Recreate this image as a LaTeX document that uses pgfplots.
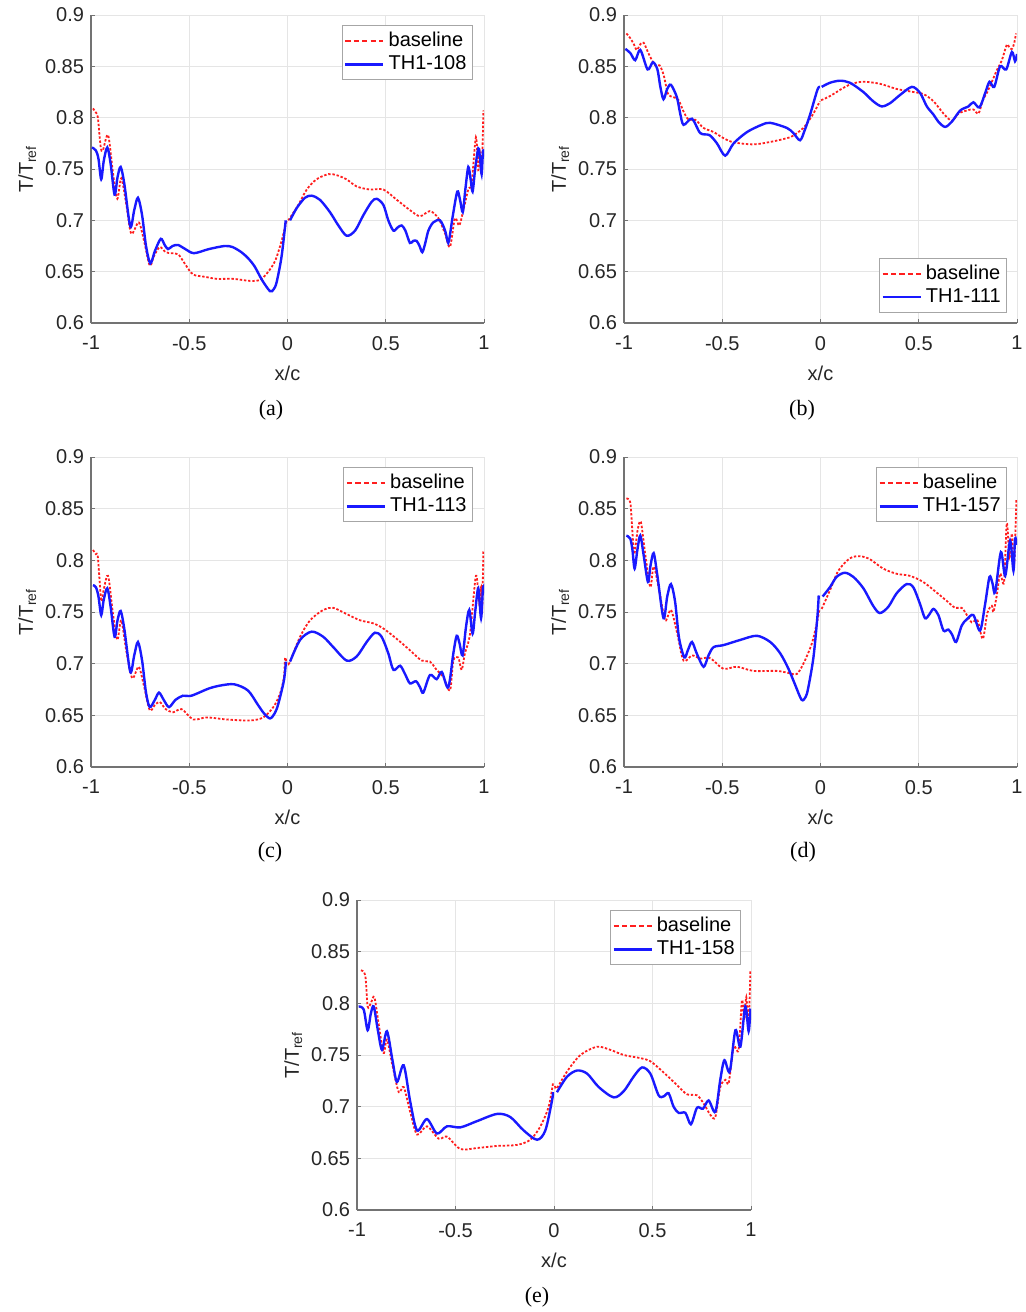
\documentclass[border=0pt]{standalone}
\usepackage{fontspec}
\setmainfont{Liberation Sans}
\newfontfamily\capfont{Liberation Serif}
\usepackage{pgfplots}
\pgfplotsset{compat=1.18}
\definecolor{mred}{RGB}{255,30,30}
\definecolor{mblue}{RGB}{25,25,255}
\pgfplotsset{
  myax/.style={
    scale only axis, width=196.5pt, height=154pt,
    anchor=south west,
    xmin=-1, xmax=1, ymin=0.6, ymax=0.9,
    xtick={-1,-0.5,0,0.5,1}, xticklabels={-1,-0.5,0,0.5,1},
    ytick={0.6,0.65,0.7,0.75,0.8,0.85,0.9},
    yticklabels={0.6,0.65,0.7,0.75,0.8,0.85,0.9},
    axis x line*=bottom, axis y line*=left,
    axis line style={-, black!55, line width=0.6pt},
    grid=major, major grid style={black!10, line width=0.5pt},
    tick align=inside, major tick length=2pt,
    tick style={black!55, line width=0.5pt},
    ticklabel style={font=\fontsize{10}{12}\selectfont, text=black!85},
    xticklabel style={yshift=-3pt},
    label style={font=\fontsize{10}{12}\selectfont, text=black!85},
    xlabel style={yshift=-1pt},
    ylabel style={yshift=-2.5pt},
    xlabel={x/c}, ylabel={T/T\textsubscript{ref}},
    legend style={font=\fontsize{10}{12}\selectfont, draw=black!35, line width=0.5pt,
      inner xsep=1pt, inner ysep=1.5pt, row sep=-1pt},
    legend cell align=left,
    legend image code/.code={\draw[#1] (0pt,0pt) -- (19pt,0pt);},
  },
  rs/.style={mred, line width=0.9pt, dash pattern=on 1.2pt off 0.9pt, smooth, tension=0.5,
    legend image post style={dash pattern=on 2.6pt off 1.6pt}},
  bs/.style={mblue, line width=1.2pt, smooth, tension=0.5},
}
\begin{document}
\begin{tikzpicture}
\path[use as bounding box] (0pt,0pt) rectangle (512.5pt,-656pt);
% (a)
\begin{axis}[myax, at={(45.5pt,-161.5pt)},
  legend style={at={(0.972,0.968)}, anchor=north east}]
\addplot[rs] coordinates {(-0.99,0.809) (-0.975,0.805) (-0.965,0.800) (-0.951,0.772) (-0.94,0.768) (-0.913,0.783) (-0.888,0.746) (-0.866,0.721) (-0.846,0.741) (-0.82,0.715) (-0.795,0.687) (-0.757,0.698) (-0.73,0.68) (-0.701,0.656) (-0.68,0.665) (-0.65,0.674) (-0.62,0.669) (-0.591,0.668) (-0.557,0.667) (-0.53,0.66) (-0.506,0.653) (-0.479,0.647) (-0.42,0.645) (-0.36,0.643) (-0.276,0.643) (-0.19,0.641) (-0.14,0.642) (-0.106,0.648) (-0.064,0.66) (-0.03,0.68) (-0.004,0.70)};
\addlegendentry{baseline}
\addplot[bs] coordinates {(-0.995,0.771) (-0.975,0.768) (-0.962,0.76) (-0.948,0.740) (-0.935,0.758) (-0.917,0.771) (-0.90,0.755) (-0.880,0.725) (-0.865,0.742) (-0.849,0.752) (-0.83,0.735) (-0.80,0.694) (-0.78,0.71) (-0.761,0.722) (-0.74,0.705) (-0.72,0.675) (-0.698,0.658) (-0.675,0.67) (-0.645,0.682) (-0.625,0.676) (-0.608,0.672) (-0.585,0.675) (-0.557,0.676) (-0.52,0.672) (-0.476,0.668) (-0.40,0.672) (-0.32,0.675) (-0.28,0.674) (-0.235,0.669) (-0.20,0.663) (-0.167,0.655) (-0.13,0.642) (-0.089,0.631) (-0.07,0.633) (-0.055,0.64) (-0.03,0.665) (-0.009,0.70)};
\addlegendentry{TH1-108}
\addplot[rs, forget plot] coordinates {(0.004,0.70) (0.055,0.715) (0.098,0.73) (0.148,0.74) (0.208,0.745) (0.25,0.744) (0.30,0.74) (0.352,0.733) (0.42,0.730) (0.488,0.730) (0.556,0.72) (0.623,0.71) (0.674,0.704) (0.725,0.709) (0.768,0.702) (0.802,0.687) (0.827,0.674) (0.852,0.702) (0.874,0.695) (0.895,0.71) (0.920,0.730) (0.937,0.736) (0.959,0.781) (0.971,0.749) (0.979,0.766) (0.988,0.745) (0.997,0.807)};
\addplot[bs, forget plot] coordinates {(0.013,0.70) (0.047,0.712) (0.089,0.722) (0.123,0.724) (0.165,0.72) (0.216,0.708) (0.259,0.695) (0.301,0.685) (0.344,0.69) (0.386,0.705) (0.428,0.718) (0.454,0.721) (0.488,0.715) (0.513,0.70) (0.539,0.69) (0.56,0.693) (0.581,0.695) (0.60,0.69) (0.623,0.678) (0.64,0.68) (0.657,0.68) (0.672,0.675) (0.686,0.669) (0.70,0.677) (0.717,0.69) (0.742,0.698) (0.776,0.70) (0.802,0.69) (0.818,0.678) (0.830,0.69) (0.840,0.703) (0.864,0.728) (0.878,0.72) (0.892,0.708) (0.905,0.73) (0.920,0.752) (0.932,0.74) (0.942,0.728) (0.955,0.75) (0.971,0.770) (0.980,0.76) (0.988,0.745) (0.995,0.768) (1.0,0.762)};
\end{axis}
% (b)
\begin{axis}[myax, at={(312pt,-161.5pt)},
  legend style={at={(0.975,0.032)}, anchor=south east}]
\addplot[rs] coordinates {(-0.988,0.882) (-0.97,0.878) (-0.951,0.872) (-0.935,0.866) (-0.915,0.872) (-0.900,0.873) (-0.883,0.866) (-0.866,0.859) (-0.841,0.851) (-0.819,0.851) (-0.799,0.842) (-0.785,0.830) (-0.773,0.822) (-0.748,0.820) (-0.722,0.817) (-0.697,0.806) (-0.671,0.798) (-0.637,0.798) (-0.595,0.790) (-0.544,0.786) (-0.493,0.780) (-0.442,0.776) (-0.341,0.774) (-0.239,0.777) (-0.154,0.781) (-0.12,0.785) (-0.087,0.790) (-0.06,0.797) (-0.036,0.804) (-0.003,0.816)};
\addlegendentry{baseline}
\addplot[bs] coordinates {(-0.993,0.867) (-0.968,0.863) (-0.943,0.856) (-0.917,0.866) (-0.880,0.847) (-0.853,0.854) (-0.830,0.847) (-0.815,0.83) (-0.799,0.818) (-0.78,0.828) (-0.761,0.832) (-0.731,0.820) (-0.715,0.805) (-0.697,0.793) (-0.654,0.799) (-0.612,0.785) (-0.565,0.783) (-0.527,0.775) (-0.485,0.763) (-0.442,0.775) (-0.374,0.786) (-0.30,0.793) (-0.256,0.795) (-0.171,0.790) (-0.138,0.785) (-0.104,0.778) (-0.08,0.788) (-0.053,0.803) (-0.016,0.827) (-0.003,0.830)};
\addlegendentry{TH1-111}
\addplot[rs, forget plot] coordinates {(0.003,0.817) (0.048,0.821) (0.116,0.829) (0.160,0.833) (0.218,0.835) (0.303,0.833) (0.387,0.828) (0.473,0.825) (0.524,0.823) (0.575,0.816) (0.626,0.804) (0.668,0.797) (0.702,0.804) (0.745,0.807) (0.778,0.808) (0.804,0.804) (0.826,0.817) (0.849,0.825) (0.872,0.835) (0.897,0.846) (0.923,0.856) (0.948,0.871) (0.962,0.868) (0.974,0.867) (0.985,0.872) (0.995,0.882)};
\addplot[bs, forget plot] coordinates {(0.006,0.830) (0.048,0.834) (0.099,0.836) (0.150,0.834) (0.218,0.825) (0.268,0.816) (0.311,0.811) (0.353,0.814) (0.404,0.822) (0.465,0.830) (0.507,0.824) (0.541,0.811) (0.575,0.803) (0.600,0.796) (0.634,0.791) (0.668,0.796) (0.711,0.807) (0.753,0.811) (0.778,0.815) (0.809,0.810) (0.838,0.824) (0.860,0.835) (0.884,0.830) (0.914,0.850) (0.945,0.847) (0.974,0.864) (0.990,0.855) (1.0,0.862)};
\end{axis}
% (c)
\begin{axis}[myax, height=155pt, at={(45.5pt,-383.5pt)},
  legend style={at={(0.972,0.968)}, anchor=north east}]
\addplot[rs] coordinates {(-0.99,0.810) (-0.975,0.806) (-0.965,0.803) (-0.948,0.761) (-0.935,0.772) (-0.913,0.785) (-0.888,0.748) (-0.866,0.723) (-0.846,0.742) (-0.82,0.712) (-0.790,0.686) (-0.757,0.697) (-0.73,0.678) (-0.701,0.655) (-0.675,0.66) (-0.65,0.663) (-0.62,0.656) (-0.581,0.653) (-0.539,0.656) (-0.479,0.646) (-0.411,0.648) (-0.31,0.646) (-0.191,0.645) (-0.123,0.648) (-0.072,0.658) (-0.038,0.671) (-0.018,0.687) (-0.012,0.706) (-0.005,0.700)};
\addlegendentry{baseline}
\addplot[bs] coordinates {(-0.99,0.776) (-0.975,0.774) (-0.962,0.765) (-0.948,0.747) (-0.935,0.762) (-0.917,0.773) (-0.90,0.755) (-0.880,0.726) (-0.865,0.742) (-0.849,0.751) (-0.83,0.733) (-0.80,0.692) (-0.78,0.708) (-0.761,0.721) (-0.74,0.703) (-0.72,0.672) (-0.701,0.658) (-0.675,0.665) (-0.654,0.672) (-0.63,0.665) (-0.603,0.658) (-0.57,0.665) (-0.532,0.669) (-0.489,0.669) (-0.40,0.676) (-0.337,0.679) (-0.27,0.680) (-0.201,0.674) (-0.15,0.660) (-0.12,0.652) (-0.089,0.647) (-0.065,0.652) (-0.047,0.661) (-0.018,0.684) (-0.008,0.702)};
\addlegendentry{TH1-113}
\addplot[rs, forget plot] coordinates {(0.005,0.700) (0.013,0.702) (0.064,0.726) (0.115,0.742) (0.182,0.752) (0.233,0.754) (0.301,0.748) (0.369,0.742) (0.437,0.739) (0.488,0.734) (0.556,0.724) (0.623,0.713) (0.683,0.703) (0.725,0.702) (0.759,0.694) (0.793,0.687) (0.827,0.674) (0.844,0.703) (0.869,0.706) (0.886,0.694) (0.903,0.710) (0.929,0.729) (0.959,0.785) (0.976,0.758) (0.985,0.774) (0.990,0.748) (0.997,0.810)};
\addplot[bs, forget plot] coordinates {(0.013,0.702) (0.064,0.723) (0.123,0.731) (0.182,0.726) (0.233,0.716) (0.301,0.703) (0.352,0.707) (0.403,0.721) (0.445,0.730) (0.479,0.726) (0.513,0.710) (0.539,0.694) (0.573,0.698) (0.598,0.690) (0.623,0.681) (0.654,0.683) (0.675,0.677) (0.691,0.672) (0.725,0.689) (0.759,0.685) (0.785,0.692) (0.818,0.677) (0.844,0.710) (0.861,0.727) (0.875,0.72) (0.891,0.708) (0.908,0.735) (0.925,0.752) (0.942,0.729) (0.955,0.75) (0.971,0.773) (0.985,0.744) (0.995,0.774) (1.0,0.768)};
\end{axis}
% (d)
\begin{axis}[myax, height=155pt, at={(312pt,-383.5pt)},
  legend style={at={(0.975,0.968)}, anchor=north east}]
\addplot[rs] coordinates {(-0.988,0.860) (-0.968,0.856) (-0.958,0.83) (-0.948,0.806) (-0.93,0.83) (-0.914,0.837) (-0.892,0.806) (-0.866,0.774) (-0.849,0.794) (-0.82,0.77) (-0.790,0.742) (-0.761,0.752) (-0.73,0.73) (-0.697,0.703) (-0.654,0.708) (-0.612,0.705) (-0.570,0.706) (-0.545,0.703) (-0.493,0.695) (-0.425,0.697) (-0.341,0.693) (-0.222,0.693) (-0.163,0.691) (-0.121,0.690) (-0.087,0.700) (-0.045,0.719) (-0.019,0.739) (-0.006,0.752)};
\addlegendentry{baseline}
\addplot[bs] coordinates {(-0.988,0.824) (-0.968,0.821) (-0.957,0.81) (-0.946,0.792) (-0.932,0.81) (-0.917,0.824) (-0.9,0.805) (-0.878,0.779) (-0.865,0.795) (-0.849,0.807) (-0.83,0.785) (-0.799,0.744) (-0.78,0.765) (-0.761,0.777) (-0.74,0.76) (-0.72,0.725) (-0.693,0.706) (-0.675,0.713) (-0.654,0.721) (-0.63,0.71) (-0.595,0.697) (-0.57,0.708) (-0.544,0.716) (-0.493,0.718) (-0.408,0.723) (-0.324,0.727) (-0.256,0.721) (-0.205,0.710) (-0.163,0.695) (-0.13,0.68) (-0.096,0.665) (-0.075,0.668) (-0.062,0.677) (-0.036,0.706) (-0.016,0.745) (-0.009,0.766)};
\addlegendentry{TH1-157}
\addplot[rs, forget plot] coordinates {(0.006,0.753) (0.048,0.771) (0.091,0.790) (0.150,0.802) (0.201,0.804) (0.252,0.801) (0.319,0.792) (0.387,0.787) (0.455,0.785) (0.523,0.779) (0.590,0.769) (0.641,0.761) (0.685,0.754) (0.719,0.754) (0.745,0.747) (0.770,0.740) (0.799,0.742) (0.826,0.724) (0.849,0.749) (0.872,0.756) (0.880,0.750) (0.897,0.766) (0.914,0.787) (0.934,0.779) (0.948,0.836) (0.962,0.803) (0.974,0.826) (0.985,0.794) (0.997,0.860)};
\addplot[bs, forget plot] coordinates {(0.011,0.765) (0.048,0.774) (0.082,0.784) (0.124,0.788) (0.167,0.784) (0.218,0.773) (0.268,0.756) (0.302,0.749) (0.345,0.755) (0.387,0.768) (0.438,0.777) (0.472,0.774) (0.506,0.758) (0.532,0.744) (0.555,0.748) (0.575,0.753) (0.600,0.747) (0.626,0.732) (0.651,0.733) (0.670,0.728) (0.690,0.721) (0.719,0.737) (0.745,0.743) (0.778,0.747) (0.812,0.732) (0.838,0.758) (0.860,0.784) (0.875,0.778) (0.889,0.769) (0.918,0.808) (0.940,0.785) (0.965,0.819) (0.982,0.790) (0.99,0.821) (1.0,0.815)};
\end{axis}
% (e)
\begin{axis}[myax, width=197pt, height=155pt, at={(178.5pt,-605pt)},
  legend style={at={(0.975,0.968)}, anchor=north east}]
\addplot[rs] coordinates {(-0.98,0.832) (-0.958,0.827) (-0.946,0.797) (-0.93,0.80) (-0.912,0.806) (-0.89,0.78) (-0.865,0.752) (-0.848,0.765) (-0.82,0.74) (-0.788,0.714) (-0.763,0.719) (-0.73,0.695) (-0.695,0.673) (-0.645,0.681) (-0.585,0.669) (-0.543,0.671) (-0.475,0.659) (-0.391,0.660) (-0.289,0.662) (-0.188,0.663) (-0.12,0.668) (-0.069,0.681) (-0.027,0.70) (-0.005,0.723)};
\addlegendentry{baseline}
\addplot[bs] coordinates {(-0.992,0.797) (-0.966,0.794) (-0.946,0.774) (-0.93,0.79) (-0.915,0.797) (-0.895,0.775) (-0.873,0.755) (-0.848,0.773) (-0.82,0.745) (-0.797,0.724) (-0.763,0.740) (-0.73,0.705) (-0.695,0.677) (-0.645,0.688) (-0.594,0.674) (-0.543,0.681) (-0.475,0.680) (-0.391,0.686) (-0.289,0.693) (-0.222,0.690) (-0.154,0.677) (-0.086,0.668) (-0.044,0.677) (-0.01,0.706) (-0.005,0.714)};
\addlegendentry{TH1-158}
\addplot[rs, forget plot] coordinates {(0.005,0.72) (0.015,0.718) (0.066,0.734) (0.134,0.75) (0.218,0.758) (0.286,0.755) (0.354,0.75) (0.438,0.747) (0.489,0.744) (0.557,0.733) (0.624,0.721) (0.675,0.712) (0.726,0.711) (0.760,0.703) (0.794,0.692) (0.819,0.69) (0.844,0.719) (0.870,0.726) (0.887,0.723) (0.912,0.758) (0.937,0.755) (0.954,0.803) (0.966,0.784) (0.976,0.806) (0.988,0.781) (0.997,0.832)};
\addplot[bs, forget plot] coordinates {(0.015,0.714) (0.066,0.729) (0.117,0.735) (0.168,0.732) (0.227,0.719) (0.303,0.709) (0.354,0.715) (0.404,0.729) (0.447,0.738) (0.489,0.732) (0.531,0.711) (0.557,0.710) (0.582,0.713) (0.607,0.70) (0.633,0.694) (0.667,0.694) (0.695,0.683) (0.726,0.699) (0.756,0.698) (0.785,0.706) (0.819,0.695) (0.844,0.726) (0.865,0.745) (0.892,0.734) (0.921,0.774) (0.946,0.758) (0.971,0.797) (0.988,0.773) (0.997,0.795)};
\end{axis}
\node[font=\capfont\fontsize{11}{13}\selectfont] at (135.5pt,-205pt) {(a)};
\node[font=\capfont\fontsize{11}{13}\selectfont] at (401pt,-205pt) {(b)};
\node[font=\capfont\fontsize{11}{13}\selectfont] at (135pt,-426pt) {(c)};
\node[font=\capfont\fontsize{11}{13}\selectfont] at (401.5pt,-426pt) {(d)};
\node[font=\capfont\fontsize{11}{13}\selectfont] at (268.5pt,-648.5pt) {(e)};
\end{tikzpicture}
\end{document}
